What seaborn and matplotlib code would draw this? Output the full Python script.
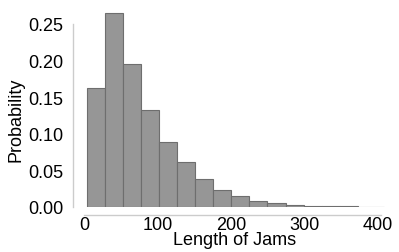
import numpy as np
import pandas as pd
import matplotlib
matplotlib.use("Agg")
import matplotlib.pyplot as plt
import seaborn as sns

# Data
bin_edges = [3.6, 28.2, 52.8, 77.4, 102.0, 126.6, 151.2, 175.8, 200.4, 225.0,
             249.6, 274.2, 298.8, 323.4, 348.0, 372.6, 397.2, 408.0]
probabilities = [0.162, 0.265, 0.195, 0.133, 0.089, 0.0615, 0.038, 0.0237,
                 0.0146, 0.0082, 0.005, 0.003, 0.002, 0.0012, 0.0008, 0.0005, 0.0003]
x_ticks = [0, 100, 200, 300, 400]
y_ticks = [0.00, 0.05, 0.10, 0.15, 0.20, 0.25]
x_label = "Length of Jams"
y_label = "Probability"

centers = [(a + b) / 2 for a, b in zip(bin_edges[:-1], bin_edges[1:])]
df = pd.DataFrame({"length": centers, "prob": probabilities})

sns.set_theme(style="white")
plt.rcParams["font.family"] = ["Liberation Sans", "DejaVu Sans"]

W, H = 399, 253
fig = plt.figure(figsize=(W / 100, H / 100), dpi=100)
ax = fig.add_axes([81 / W, 45 / H, 307.3 / W, 205 / H])

sns.histplot(data=df, x="length", weights="prob", bins=bin_edges, stat="count",
             color="#969696", edgecolor="#6e6e6e", linewidth=0.8, alpha=1.0, ax=ax)

ax.set_xlim(-4, 414)
ax.set_ylim(0, 0.28)
ax.set_xticks(x_ticks)
ax.set_yticks(y_ticks)
ax.set_yticklabels([f"{v:.2f}" for v in y_ticks])
ax.tick_params(axis="both", length=0, labelsize=13, colors="black")
ax.tick_params(axis="y", pad=7)
ax.tick_params(axis="x", pad=1)

sns.despine(ax=ax, offset=5.5)
for s in ["left", "bottom"]:
    ax.spines[s].set_color("#cccccc")
    ax.spines[s].set_linewidth(1.0)
ax.spines["left"].set_bounds(0, 0.25)
ax.spines["bottom"].set_bounds(0, 404)

ax.set_xlabel(x_label, fontsize=13, color="black")
ax.set_ylabel(y_label, fontsize=13, color="black")
ax.xaxis.set_label_coords(0.5, -0.115)
ax.yaxis.set_label_coords(-0.185, 0.43)

fig.savefig("out.png", dpi=100)
